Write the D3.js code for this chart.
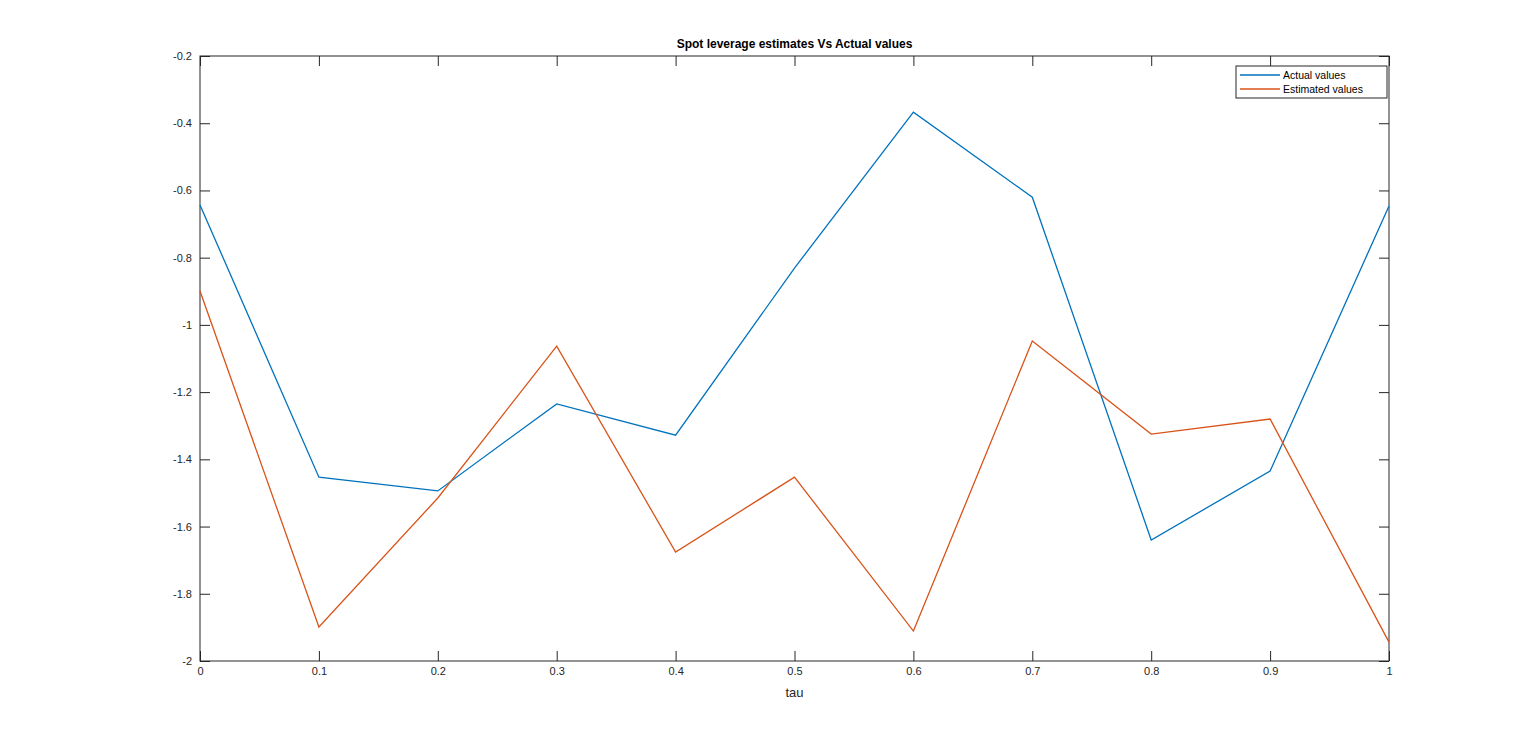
<!DOCTYPE html>
<html><head><meta charset="utf-8">
<script src="https://cdn.jsdelivr.net/npm/d3@7"></script>
<style>body{margin:0;background:#fff}text{font-family:"Liberation Sans",Arial,sans-serif}</style>
</head><body>
<svg id="c" width="1536" height="744"></svg>
<script>
const tau = [0,0.1,0.2,0.3,0.4,0.5,0.6,0.7,0.8,0.9,1];
const actual = [-0.643,-1.453,-1.494,-1.235,-1.328,-0.831,-0.367,-0.62,-1.64,-1.435,-0.646];
const estimated = [-0.899,-1.899,-1.515,-1.063,-1.676,-1.453,-1.911,-1.048,-1.325,-1.28,-1.944];
const xTicks = [0,0.1,0.2,0.3,0.4,0.5,0.6,0.7,0.8,0.9,1];
const yTicks = [-2,-1.8,-1.6,-1.4,-1.2,-1,-0.8,-0.6,-0.4,-0.2];
const seriesNames = ["Actual values","Estimated values"];
const colors = ["#0072BD","#D95319"];

const svg = d3.select("#c");
const L=200,R=1389,T=56,B=661;
const x = d3.scaleLinear().domain([0,1]).range([L,R]);
const y = d3.scaleLinear().domain([-2,-0.2]).range([B,T]);
const fmt = d => String(+d.toFixed(2)).replace("0.","0.");

const ax = svg.append("g").attr("transform",`translate(0,${B})`)
  .call(d3.axisBottom(x).tickValues(xTicks).tickSize(-10).tickPadding(6).tickFormat(d=>String(d)));
const axt = svg.append("g").attr("transform",`translate(0,${T})`)
  .call(d3.axisTop(x).tickValues(xTicks).tickSize(-10).tickFormat(""));
const ay = svg.append("g").attr("transform",`translate(${L},0)`)
  .call(d3.axisLeft(y).tickValues(yTicks).tickSize(-10).tickPadding(8).tickFormat(d=>String(+d.toFixed(1))));
const ayr = svg.append("g").attr("transform",`translate(${R},0)`)
  .call(d3.axisRight(y).tickValues(yTicks).tickSize(-10).tickFormat(""));
[ax,axt,ay,ayr].forEach(g=>{g.select(".domain").remove();g.selectAll("line").attr("stroke","#262626");g.selectAll("text").attr("font-size",11).attr("fill","#262626");});
svg.append("rect").attr("x",L).attr("y",T).attr("width",R-L).attr("height",B-T).attr("fill","none").attr("stroke","#262626").attr("stroke-width",1);

const line = d3.line().x((d,i)=>x(tau[i])).y(d=>y(d));
[actual,estimated].forEach((s,k)=>svg.append("path").datum(s).attr("d",line).attr("fill","none").attr("stroke",colors[k]).attr("stroke-width",1.3));

svg.append("text").attr("x",(L+R)/2).attr("y",48).attr("text-anchor","middle").attr("font-size",12).attr("font-weight","bold").attr("fill","#000").text("Spot leverage estimates Vs Actual values");
svg.append("text").attr("x",(L+R)/2).attr("y",697).attr("text-anchor","middle").attr("font-size",13).attr("fill","#262626").text("tau");

const lg = svg.append("g");
lg.append("rect").attr("x",1236).attr("y",66).attr("width",151).attr("height",32).attr("fill","#fff").attr("stroke","#262626");
seriesNames.forEach((n,k)=>{
  const yy=75+k*14;
  lg.append("line").attr("x1",1240).attr("x2",1280).attr("y1",yy).attr("y2",yy).attr("stroke",colors[k]).attr("stroke-width",1.3);
  lg.append("text").attr("x",1283).attr("y",yy+4).attr("font-size",10.5).attr("fill","#000").text(n);
});
</script>
</body></html>
